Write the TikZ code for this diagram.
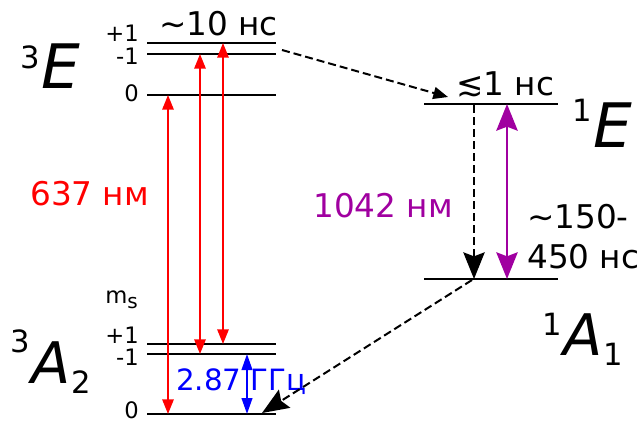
\documentclass[tikz,border=0pt]{standalone}
\usepackage{fontspec}
\setmainfont{DejaVu Sans}
\usetikzlibrary{arrows.meta}
\definecolor{nvpurple}{RGB}{160,0,160}
\newcommand{\term}[5]{\raisebox{#4}{\fontsize{23}{23}\selectfont #1}\kern1pt{\fontsize{#5}{#5}\selectfont\itshape #2}\kern1pt\raisebox{-8pt}{\fontsize{23}{23}\selectfont #3}}
\begin{document}
\begin{tikzpicture}[x=0.75pt,y=-0.75pt]
    \tikzset{level/.style={line width=1.9pt},
             lbl/.style={inner sep=0pt,anchor=base west,font=\fontsize{24.5}{24.5}\selectfont},
             ms/.style={inner sep=0pt,anchor=base east,font=\fontsize{17}{17}\selectfont},
             pump/.style={red,line width=1.5pt,{Triangle[length=11pt,width=8.5pt]}-{Triangle[length=11pt,width=8.5pt]}},
             mw/.style={blue,line width=1.5pt,{Triangle[length=12pt,width=8pt]}-{Triangle[length=12pt,width=8pt]}},
             ir/.style={nvpurple,line width=1.9pt,{Stealth[length=20pt,width=16pt,inset=3pt]}-{Stealth[length=20pt,width=16pt,inset=3pt]}},
             isc/.style={line width=1.5pt,dash pattern=on 6pt off 3pt}}
    \useasboundingbox (0,0) rectangle (641,422);
    % triplet levels
    \foreach \n/\y in {eP/43, eM/54, eZ/95, gP/344, gM/354, gZ/414} {
        \coordinate (\n l) at (147,\y);
        \coordinate (\n r) at (276,\y);
        \draw[level] (\n l) -- (\n r);
    }
    % singlet levels
    \coordinate (sEl) at (424,104); \coordinate (sEr) at (558,104);
    \coordinate (sAl) at (424,279); \coordinate (sAr) at (558,279);
    \draw[level] (sEl) -- (sEr);
    \draw[level] (sAl) -- (sAr);
    % arrow ends
    \coordinate (p1t) at (168,95);  \coordinate (p1b) at (168,414);
    \coordinate (p2t) at (200,54);  \coordinate (p2b) at (200,354);
    \coordinate (p3t) at (223,43);  \coordinate (p3b) at (223,344);
    \coordinate (mwt) at (247,354); \coordinate (mwb) at (247,414);
    \coordinate (irt) at (507,104); \coordinate (irb) at (507,279);
    \coordinate (d1s) at (282,50);  \coordinate (d1e) at (448,97);
    \coordinate (d2s) at (474,105); \coordinate (d2e) at (474,279);
    \coordinate (d3s) at (472,280); \coordinate (d3e) at (262,413);
    % labels
    \node[lbl] (tE) at (159,35) {\textasciitilde10 нс};
    \node[lbl] (tS) at (456,95) {≲1 нс};
    \node[lbl,red] (tR) at (30,205) {637 нм};
    \node[lbl,nvpurple] (tI) at (313,217) {1042 нм};
    \node[lbl] (tL1) at (527,228) {\textasciitilde150-};
    \node[lbl] (tL2) at (527,268) {450 нс};
    \node[lbl,blue,font=\fontsize{22}{22}\selectfont] (tM) at (176,390) {2.87 ГГц};
    \node[ms] (eP1) at (139,41) {+1};
    \node[ms] (eM1) at (139,64) {-1};
    \node[ms] (eZ0) at (139,101) {0};
    \node[ms] (gP1) at (139,343) {+1};
    \node[ms] (gM1) at (139,365) {-1};
    \node[ms] (gZ0) at (139,418) {0};
    \node[ms,anchor=base west] (mS) at (105,303) {m\raisebox{-4pt}{\fontsize{15}{15}\selectfont s}};
    \node[inner sep=0pt,anchor=base west] (E3) at (20,88) {\term{3}{E}{}{15pt}{46}};
    \node[inner sep=0pt,anchor=base west] (A3) at (10,383) {\term{3}{A}{2}{23pt}{43}};
    \node[inner sep=0pt,anchor=base west] (E1) at (572,147) {\term{1}{E}{}{19pt}{46}};
    \node[inner sep=0pt,anchor=base west] (A1) at (542,355) {\term{1}{A}{1}{15pt}{43}};
    % transitions
    \draw[pump] (p1t) -- (p1b);
    \draw[pump] (p2t) -- (p2b);
    \draw[pump] (p3t) -- (p3b);
    \draw[mw] (mwt) -- (mwb);
    \draw[ir] (irt) -- (irb);
    \draw[isc,-{Triangle[length=11pt,width=9pt]}] (d1s) -- (d1e);
    \draw[isc,-{Stealth[length=20pt,width=16pt,inset=3pt]}] (d2s) -- (d2e);
    \draw[isc,-{Stealth[length=20pt,width=16pt,inset=3pt]}] (d3s) -- (d3e);
\end{tikzpicture}
\end{document}
